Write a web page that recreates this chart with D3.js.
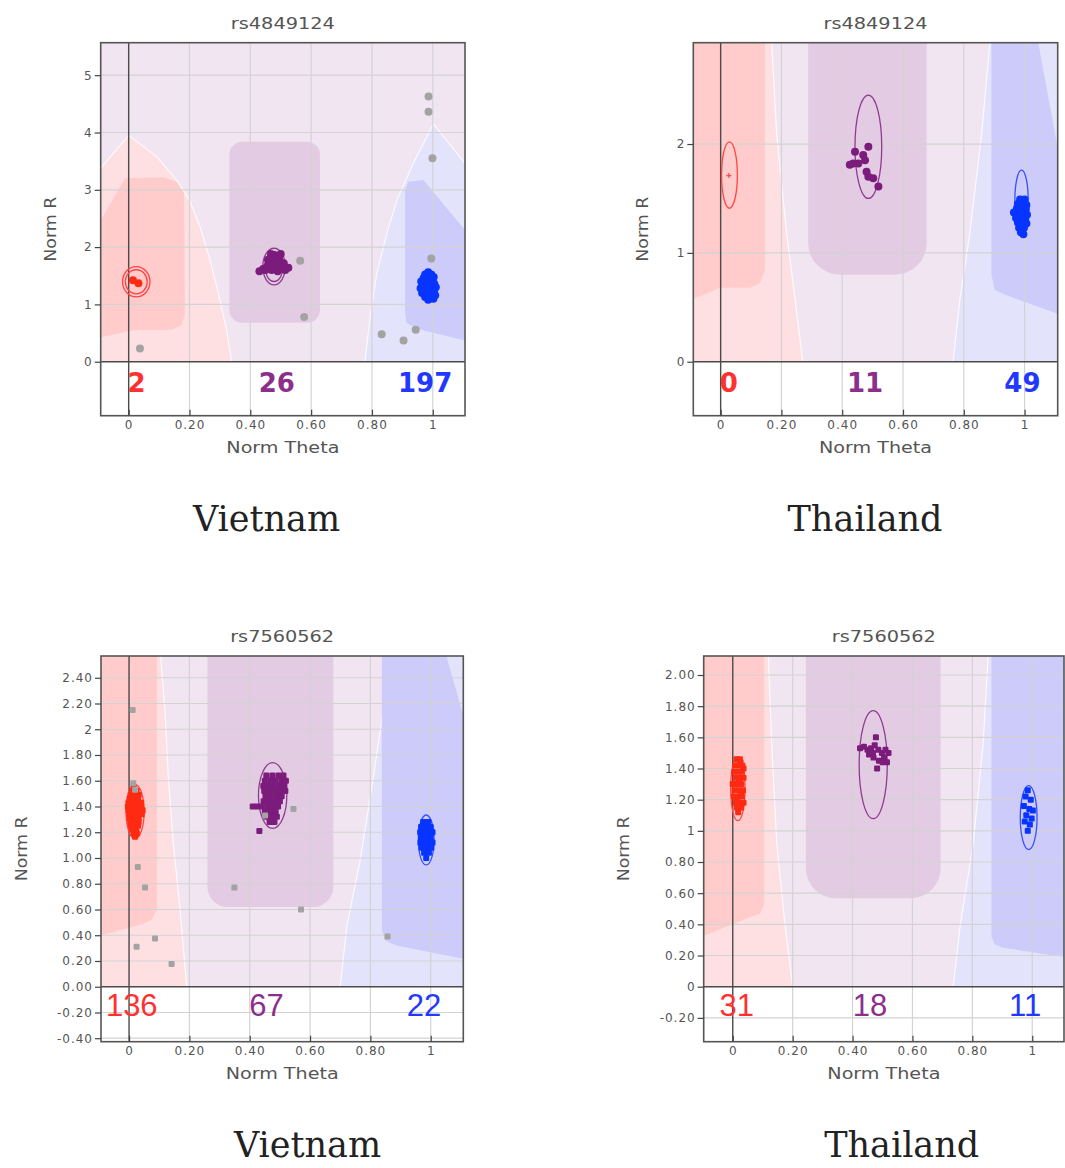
<!DOCTYPE html>
<html>
<head>
<meta charset="utf-8">
<script src="https://cdn.jsdelivr.net/npm/d3@7"></script>
<style>
  body { margin: 0; background: #fff; }
  svg { display: block; }
</style>
</head>
<body>
<script>
// four GenomeStudio-style cluster plots (Norm Theta vs Norm R), two SNPs x two countries

// ---- data ----
const snpTitles = ["rs4849124", "rs4849124", "rs7560562", "rs7560562"]
const countries = ["Vietnam", "Thailand", "Vietnam", "Thailand"]

// genotype call counts AA / AB / BB, and where they sit in the strip under R = 0
const genotypeCounts = [[2, 26, 197], [0, 11, 49], [136, 67, 22], [31, 18, 11]]
const countTheta = [[0.026, 0.487, 0.975], [0.027, 0.475, 0.993], [0.009, 0.456, 0.978], [0.013, 0.458, 0.976]]
const countR = [-0.535, -0.276, -0.228, -0.19]

const xTicks = [0, 0.2, 0.4, 0.6, 0.8, 1]
const xTickLabels = ["0", "0.20", "0.40", "0.60", "0.80", "1"]

const yTicks1 = [0, 1, 2, 3, 4, 5]
const yLabels1 = ["0", "1", "2", "3", "4", "5"]
const yTicks2 = [0, 1, 2]
const yLabels2 = ["0", "1", "2"]
const yTicks3 = [-0.4, -0.2, 0, 0.2, 0.4, 0.6, 0.8, 1, 1.2, 1.4, 1.6, 1.8, 2, 2.2, 2.4]
const yLabels3 = ["-0.40", "-0.20", "0.00", "0.20", "0.40", "0.60", "0.80", "1.00", "1.20", "1.40", "1.60", "1.80", "2", "2.20", "2.40"]
const yTicks4 = [-0.2, 0, 0.2, 0.4, 0.6, 0.8, 1, 1.2, 1.4, 1.6, 1.8, 2]
const yLabels4 = ["-0.20", "0", "0.20", "0.40", "0.60", "0.80", "1", "1.20", "1.40", "1.60", "1.80", "2.00"]

// cluster regions, [theta, R] vertices
const p1AaOuter = [[-0.2, 2.7], [0, 3.95], [0.092, 3.58], [0.158, 3.17], [0.20, 2.82], [0.235, 2.35], [0.268, 1.77], [0.295, 1.19], [0.322, 0.55], [0.339, 0], [0.339, -1], [-0.2, -1]]
const p1AaInner = [[-0.2, 1.49], [-0.012, 3.20], [0.114, 3.22], [0.158, 3.14], [0.182, 2.94], [0.185, 0.84], [0.174, 0.64], [0.141, 0.56], [0.015, 0.55], [-0.2, 0.3]]
const p1BbOuter = [[0.777, -1], [0.777, 0], [0.794, 0.78], [0.816, 1.54], [0.849, 2.24], [0.882, 2.82], [0.936, 3.46], [1.002, 4.15], [1.106, 3.46], [1.2, 2.84], [1.2, -1]]
const p1BbInner = [[0.909, 0.84], [0.909, 3.0], [0.920, 3.14], [0.969, 3.17], [1.106, 2.30], [1.2, 1.7], [1.2, 0.3], [1.106, 0.37], [0.991, 0.52], [0.947, 0.58], [0.914, 0.67]]
const p1AbBox = [0.331, 0.629, 0.68, 3.84]

const p2AaOuter = [[-0.2, 3.2], [0.168, 3.2], [0.168, 2.93], [0.184, 2.10], [0.217, 1.18], [0.245, 0.57], [0.270, 0], [0.270, -1], [-0.2, -1]]
const p2AaInner = [[-0.2, 3.2], [0.146, 3.2], [0.146, 0.84], [0.129, 0.72], [0.096, 0.68], [-0.002, 0.68], [-0.2, 0.45]]
const p2BbOuter = [[0.886, 3.2], [1.2, 3.2], [1.2, -1], [0.765, -1], [0.765, 0], [0.787, 0.57], [0.820, 1.18], [0.859, 2.10], [0.886, 2.93]]
const p2BbInner = [[0.891, 3.2], [1.035, 3.2], [1.045, 2.93], [1.10, 2.10], [1.2, 0.6], [1.2, 0.40], [1.109, 0.44], [0.941, 0.61], [0.902, 0.66], [0.891, 0.80]]
const p2AbBox = [0.288, 0.678, 0.80, 3.6]

const p3AaOuter = [[-0.2, 3.0], [0.105, 3.0], [0.105, 2.56], [0.119, 2.15], [0.130, 1.63], [0.147, 1.11], [0.169, 0.60], [0.191, 0], [0.191, -1], [-0.2, -1]]
const p3AaInner = [[-0.2, 3.0], [0.092, 3.0], [0.092, 0.60], [0.075, 0.52], [0.048, 0.49], [-0.091, 0.40], [-0.2, 0.35]]
const p3BbOuter = [[0.86, 3.0], [1.2, 3.0], [1.2, -1], [0.70, -1], [0.70, 0], [0.722, 0.47], [0.766, 0.98], [0.81, 1.63], [0.843, 2.15], [0.86, 2.56]]
const p3BbInner = [[0.838, 3.0], [1.045, 3.0], [1.053, 2.56], [1.103, 2.15], [1.2, 1.4], [1.2, 0.2], [1.103, 0.22], [0.887, 0.32], [0.849, 0.36], [0.838, 0.44]]
const p3AbBox = [0.26, 0.677, 0.62, 3.0]

const p4AaOuter = [[-0.2, 2.6], [0.119, 2.6], [0.119, 2.12], [0.130, 1.56], [0.147, 0.92], [0.175, 0.385], [0.20, 0], [0.20, -1], [-0.2, -1]]
const p4AaInner = [[-0.2, 2.6], [0.105, 2.6], [0.105, 0.53], [0.091, 0.47], [0.063, 0.45], [-0.092, 0.33], [-0.2, 0.28]]
const p4BbOuter = [[0.853, 2.6], [1.2, 2.6], [1.2, -1], [0.736, -1], [0.736, 0], [0.759, 0.385], [0.803, 0.92], [0.836, 1.56], [0.853, 2.12]]
const p4BbInner = [[0.864, 2.6], [1.2, 2.6], [1.2, 0.17], [1.109, 0.19], [0.903, 0.25], [0.875, 0.27], [0.864, 0.32]]
const p4AbBox = [0.244, 0.694, 0.567, 2.6]

// cluster ellipses: genotype, centre theta, centre R, half-width theta, half-height R
const p1Ellipses = [["AA", 0.025, 1.395, 0.045, 0.265], ["AA", 0.025, 1.395, 0.036, 0.21], ["AB", 0.478, 1.66, 0.037, 0.32], ["AB", 0.478, 1.66, 0.030, 0.26], ["BB", 0.985, 1.33, 0.025, 0.25]]
const p2Ellipses = [["AA", 0.029, 1.715, 0.026, 0.305], ["AB", 0.486, 1.975, 0.044, 0.475], ["BB", 0.99, 1.48, 0.022, 0.28]]
const p3Ellipses = [["AA", 0.02, 1.36, 0.03, 0.21], ["AB", 0.476, 1.485, 0.047, 0.255], ["BB", 0.985, 1.14, 0.026, 0.194]]
const p4Ellipses = [["AA", 0.017, 1.27, 0.024, 0.205], ["AB", 0.469, 1.425, 0.047, 0.347], ["BB", 0.988, 1.085, 0.028, 0.205]]

// cluster centre marks (empty cluster)
const p2Centres = [[0.027, 1.71]]

// samples, [theta, R]
const p1AA = [[0.014, 1.42], [0.032, 1.37]]
const p1AB = [[0.430, 1.58], [0.442, 1.62], [0.455, 1.66], [0.462, 1.72], [0.470, 1.80], [0.478, 1.86], [0.488, 1.84], [0.495, 1.78], [0.500, 1.70], [0.492, 1.66], [0.482, 1.62], [0.470, 1.60], [0.460, 1.68], [0.475, 1.70], [0.485, 1.74], [0.505, 1.62], [0.515, 1.60], [0.525, 1.64], [0.510, 1.72], [0.468, 1.88], [0.458, 1.78], [0.450, 1.60], [0.490, 1.58], [0.500, 1.88], [0.480, 1.78], [0.465, 1.64]]
const p1BB = [[0.985, 1.56], [0.975, 1.52], [0.995, 1.52], [1.003, 1.48], [0.970, 1.46], [0.985, 1.46], [0.998, 1.42], [0.962, 1.40], [0.978, 1.40], [0.992, 1.36], [1.005, 1.36], [0.966, 1.32], [0.982, 1.32], [0.998, 1.30], [0.972, 1.26], [0.988, 1.24], [1.004, 1.24], [0.965, 1.20], [0.980, 1.18], [0.996, 1.18], [1.008, 1.16], [0.975, 1.13], [0.990, 1.12], [1.002, 1.10], [0.985, 1.08], [0.960, 1.28], [1.010, 1.30], [0.975, 1.36], [0.990, 1.48], [1.000, 1.14]]
const p1NC = [[0.037, 0.23], [0.564, 1.76], [0.577, 0.78], [0.832, 0.48], [0.904, 0.37], [0.944, 0.56], [0.995, 1.80], [0.999, 3.55], [0.986, 4.36], [0.986, 4.63]]

const p2AA = []
const p2AB = [[0.442, 1.93], [0.469, 1.90], [0.475, 1.85], [0.436, 1.82], [0.453, 1.82], [0.480, 1.745], [0.486, 1.70], [0.502, 1.685], [0.519, 1.61], [0.486, 1.975], [0.425, 1.81]]
const p2BB = [[0.985, 1.49], [1.000, 1.49], [0.978, 1.45], [0.993, 1.45], [1.006, 1.44], [0.975, 1.41], [0.990, 1.40], [1.004, 1.40], [0.965, 1.37], [0.980, 1.36], [0.996, 1.36], [1.008, 1.35], [0.972, 1.32], [0.988, 1.32], [1.002, 1.31], [0.978, 1.28], [0.994, 1.27], [1.006, 1.27], [0.982, 1.23], [0.998, 1.23], [0.988, 1.19], [0.996, 1.17]]
const p2NC = []

const p3AA = [[0.015, 1.55], [0.010, 1.52], [0.025, 1.52], [0.005, 1.49], [0.020, 1.49], [0.032, 1.49], [0.002, 1.46], [0.016, 1.46], [0.030, 1.46], [-0.002, 1.43], [0.012, 1.43], [0.026, 1.43], [0.040, 1.43], [-0.004, 1.40], [0.010, 1.40], [0.024, 1.40], [0.040, 1.40], [-0.002, 1.37], [0.012, 1.37], [0.028, 1.37], [0.045, 1.37], [0.000, 1.34], [0.014, 1.34], [0.030, 1.34], [0.042, 1.34], [0.002, 1.31], [0.016, 1.31], [0.032, 1.31], [0.004, 1.28], [0.018, 1.28], [0.032, 1.28], [0.006, 1.25], [0.020, 1.25], [0.030, 1.25], [0.010, 1.22], [0.024, 1.22], [0.015, 1.19], [0.026, 1.19], [0.020, 1.165]]
const p3AB = [[0.455, 1.64], [0.475, 1.64], [0.495, 1.64], [0.512, 1.64], [0.450, 1.60], [0.468, 1.60], [0.486, 1.60], [0.505, 1.60], [0.520, 1.60], [0.445, 1.56], [0.462, 1.56], [0.480, 1.56], [0.498, 1.56], [0.515, 1.56], [0.448, 1.52], [0.466, 1.52], [0.484, 1.52], [0.502, 1.52], [0.518, 1.52], [0.452, 1.48], [0.470, 1.48], [0.488, 1.48], [0.506, 1.48], [0.446, 1.44], [0.464, 1.44], [0.482, 1.44], [0.500, 1.44], [0.410, 1.40], [0.425, 1.40], [0.440, 1.40], [0.458, 1.40], [0.476, 1.40], [0.494, 1.40], [0.450, 1.36], [0.468, 1.36], [0.486, 1.36], [0.456, 1.32], [0.474, 1.32], [0.490, 1.32], [0.466, 1.28], [0.482, 1.28], [0.432, 1.21]]
const p3BB = [[0.975, 1.28], [0.992, 1.28], [0.968, 1.24], [0.985, 1.24], [1.000, 1.24], [0.965, 1.20], [0.980, 1.20], [0.996, 1.20], [1.006, 1.20], [0.968, 1.16], [0.984, 1.16], [1.000, 1.16], [0.966, 1.12], [0.982, 1.12], [0.998, 1.12], [1.006, 1.12], [0.970, 1.08], [0.986, 1.08], [1.002, 1.08], [0.978, 1.04], [0.994, 1.04], [0.985, 1.00]]
const p3NC = [[0.012, 2.15], [0.014, 1.58], [0.020, 1.53], [0.029, 0.93], [0.053, 0.77], [0.025, 0.31], [0.086, 0.375], [0.141, 0.176], [0.349, 0.77], [0.451, 1.33], [0.545, 1.38], [0.57, 0.60], [0.857, 0.39]]

const p4AA = [[0.012, 1.46], [0.024, 1.46], [0.026, 1.44], [0.008, 1.42], [0.022, 1.42], [0.032, 1.42], [0.036, 1.40], [0.005, 1.38], [0.018, 1.38], [0.030, 1.38], [0.010, 1.34], [0.025, 1.34], [0.036, 1.34], [0.020, 1.32], [0.000, 1.30], [0.014, 1.30], [0.028, 1.30], [0.006, 1.26], [0.020, 1.26], [0.034, 1.26], [0.028, 1.24], [0.004, 1.22], [0.018, 1.22], [0.030, 1.22], [0.012, 1.20], [0.010, 1.18], [0.024, 1.18], [0.036, 1.18], [0.014, 1.15], [0.028, 1.15], [0.018, 1.12]]
const p4AB = [[0.425, 1.53], [0.438, 1.54], [0.450, 1.52], [0.462, 1.53], [0.474, 1.55], [0.478, 1.60], [0.486, 1.52], [0.498, 1.50], [0.510, 1.52], [0.520, 1.50], [0.455, 1.49], [0.470, 1.47], [0.488, 1.45], [0.500, 1.44], [0.515, 1.44], [0.482, 1.40], [0.468, 1.50], [0.505, 1.47]]
const p4BB = [[0.985, 1.26], [0.978, 1.22], [0.995, 1.20], [0.972, 1.16], [0.990, 1.14], [1.002, 1.13], [0.980, 1.10], [0.975, 1.06], [0.992, 1.04], [0.985, 1.00], [0.998, 1.08]]
const p4NC = []

// group per panel
const aaOuter = [p1AaOuter, p2AaOuter, p3AaOuter, p4AaOuter]
const aaInner = [p1AaInner, p2AaInner, p3AaInner, p4AaInner]
const bbOuter = [p1BbOuter, p2BbOuter, p3BbOuter, p4BbOuter]
const bbInner = [p1BbInner, p2BbInner, p3BbInner, p4BbInner]
const abBox = [p1AbBox, p2AbBox, p3AbBox, p4AbBox]
const ellipses = [p1Ellipses, p2Ellipses, p3Ellipses, p4Ellipses]
const centres = [[], p2Centres, [], []]
const samples = [
  { AA: p1AA, AB: p1AB, BB: p1BB, NC: p1NC },
  { AA: p2AA, AB: p2AB, BB: p2BB, NC: p2NC },
  { AA: p3AA, AB: p3AB, BB: p3BB, NC: p3NC },
  { AA: p4AA, AB: p4AB, BB: p4BB, NC: p4NC }
]

// ---- layout / style ----
const layout = [
  { box: [100.7, 42.7, 465, 415.7], xd: [-0.092, 1.106], yd: [-0.942, 5.567], yTicks: yTicks1, yLabels: yLabels1, abCorner: 13, marker: "circle", rGap: 50, label: [266.5, 531] },
  { box: [693.3, 42.7, 1057.7, 415.7], xd: [-0.090, 1.109], yd: [-0.496, 2.931], yTicks: yTicks2, yLabels: yLabels2, abCorner: 32, marker: "circle", rGap: 51, label: [865, 531] },
  { box: [101, 656, 463.3, 1041.7], xd: [-0.093, 1.108], yd: [-0.427, 2.569], yTicks: yTicks3, yLabels: yLabels3, abCorner: 20, marker: "square", rGap: 80, label: [307.5, 1157] },
  { box: [703.7, 656, 1064, 1041.7], xd: [-0.097, 1.106], yd: [-0.353, 2.122], yTicks: yTicks4, yLabels: yLabels4, abCorner: 30, marker: "square", rGap: 80, label: [901.7, 1157] }
]

const C = {
  bg: "#f1e5f1", aaOuter: "#fee0e2", aaInner: "#ffcbcb", abInner: "#e3cbe3",
  bbOuter: "#e4e3fc", bbInner: "#cccbfa", grid: "#d3d3d3"
}
const dotColor = { AA: "#ff2a12", AB: "#7b1b7b", BB: "#0834ff", NC: "#a3a3a3" }
const ringColor = { AA: "#ff4545", AB: "#8f3c8f", BB: "#3550ff" }
const countColor = ["#ff3030", "#8b2f8b", "#2238ff"]

const svg = d3.select("body").append("svg")
  .attr("width", 1065).attr("height", 1168)
  .style("font-family", "'DejaVu Sans', sans-serif")

function drawPanel(i) {
  const L = layout[i]
  const [bx0, by0, bx1, by1] = L.box
  const x = d3.scaleLinear().domain(L.xd).range([bx0, bx1])
  const y = d3.scaleLinear().domain(L.yd).range([by1, by0])
  const g = svg.append("g")

  // clip the coloured regions to the plot above R = 0
  g.append("clipPath").attr("id", "clip" + i)
    .append("rect")
    .attr("x", bx0).attr("y", by0).attr("width", bx1 - bx0).attr("height", y(0) - by0)

  g.append("rect")
    .attr("x", bx0).attr("y", by0).attr("width", bx1 - bx0).attr("height", by1 - by0)
    .attr("fill", "#fff")

  const reg = g.append("g").attr("clip-path", `url(#clip${i})`)
  reg.append("rect")
    .attr("x", bx0).attr("y", by0).attr("width", bx1 - bx0).attr("height", y(0) - by0)
    .attr("fill", C.bg)

  const line = d3.line().x(d => x(d[0])).y(d => y(d[1]))

  reg.append("path").attr("d", line(aaOuter[i]) + "Z")
    .attr("fill", C.aaOuter).attr("stroke", "#fff").attr("stroke-width", 1.2).attr("stroke-opacity", 0.8)
  reg.append("path").attr("d", line(bbOuter[i]) + "Z")
    .attr("fill", C.bbOuter).attr("stroke", "#fff").attr("stroke-width", 1.2).attr("stroke-opacity", 0.8)
  reg.append("path").attr("d", line(aaInner[i]) + "Z").attr("fill", C.aaInner)
  reg.append("path").attr("d", line(bbInner[i]) + "Z").attr("fill", C.bbInner)

  const ab = abBox[i]
  reg.append("rect")
    .attr("x", x(ab[0])).attr("y", y(ab[3]))
    .attr("width", x(ab[1]) - x(ab[0])).attr("height", y(ab[2]) - y(ab[3]))
    .attr("rx", L.abCorner)
    .attr("fill", C.abInner)

  // grid
  g.selectAll(null)
    .data(L.yTicks.filter(v => v !== 0))
    .join("line")
    .attr("x1", bx0).attr("x2", bx1)
    .attr("y1", d => y(d)).attr("y2", d => y(d))
    .attr("stroke", C.grid).attr("stroke-width", 1.2)

  g.selectAll(null)
    .data(xTicks.filter(v => v !== 0))
    .join("line")
    .attr("x1", d => x(d)).attr("x2", d => x(d))
    .attr("y1", by0).attr("y2", by1)
    .attr("stroke", C.grid).attr("stroke-width", 1.2)

  // dark zero lines
  g.append("line")
    .attr("x1", x(0)).attr("x2", x(0)).attr("y1", by0).attr("y2", by1)
    .attr("stroke", "#4a4a4a").attr("stroke-width", 1.4)
  g.append("line")
    .attr("x1", bx0).attr("x2", bx1).attr("y1", y(0)).attr("y2", y(0))
    .attr("stroke", "#4a4a4a").attr("stroke-width", 1.4)

  // cluster ellipses
  g.selectAll(null)
    .data(ellipses[i])
    .join("ellipse")
    .attr("cx", d => x(d[1])).attr("cy", d => y(d[2]))
    .attr("rx", d => x(d[1] + d[3]) - x(d[1]))
    .attr("ry", d => y(d[2]) - y(d[2] + d[4]))
    .attr("fill", "none")
    .attr("stroke", d => ringColor[d[0]])
    .attr("stroke-width", 1.3)

  // centre mark of an empty cluster
  centres[i].forEach(c => {
    g.append("path")
      .attr("d", `M${x(c[0]) - 2.5},${y(c[1])}h5M${x(c[0])},${y(c[1]) - 2.5}v5`)
      .attr("stroke", ringColor.AA).attr("stroke-width", 1.2)
  })

  // samples, no-calls last so they sit on top
  ;["AA", "AB", "BB", "NC"].forEach(geno => {
    const pts = samples[i][geno]
    if (L.marker === "circle") {
      g.selectAll(null).data(pts).join("circle")
        .attr("cx", d => x(d[0])).attr("cy", d => y(d[1]))
        .attr("r", 4)
        .attr("fill", dotColor[geno])
    } else {
      g.selectAll(null).data(pts).join("rect")
        .attr("x", d => x(d[0]) - 3).attr("y", d => y(d[1]) - 3)
        .attr("width", 6).attr("height", 6).attr("rx", 1.2)
        .attr("fill", dotColor[geno])
    }
  })

  // counts in the strip below zero
  g.selectAll(null)
    .data(genotypeCounts[i])
    .join("text")
    .attr("x", (d, j) => x(countTheta[i][j]))
    .attr("y", y(countR[i]))
    .attr("text-anchor", "middle")
    .style("font-family", i < 2 ? "'DejaVu Sans', sans-serif" : "'Liberation Sans', Arial, sans-serif")
    .style("font-weight", i < 2 ? "700" : "400")
    .style("font-size", i < 2 ? "26px" : "31px")
    .attr("fill", (d, j) => countColor[j])
    .text(d => d)

  // frame
  g.append("rect")
    .attr("x", bx0).attr("y", by0).attr("width", bx1 - bx0).attr("height", by1 - by0)
    .attr("fill", "none").attr("stroke", "#555").attr("stroke-width", 1.6)

  // axes
  const yAxis = d3.axisLeft(y)
    .tickValues(L.yTicks)
    .tickFormat((d, j) => L.yLabels[j])
    .tickSize(6).tickPadding(2)
  const ya = g.append("g").attr("transform", `translate(${bx0},0)`).call(yAxis)
  ya.select(".domain").remove()

  const xAxis = d3.axisBottom(x)
    .tickValues(xTicks)
    .tickFormat((d, j) => xTickLabels[j])
    .tickSize(-6).tickPadding(5)
  const xa = g.append("g").attr("transform", `translate(0,${by1})`).call(xAxis)
  xa.select(".domain").remove()

  ;[ya, xa].forEach(a => {
    a.selectAll("line").attr("stroke", "#444").attr("stroke-width", 1.2)
    a.selectAll("text")
      .attr("fill", "#555")
      .style("font-family", "'DejaVu Sans', sans-serif")
      .style("font-size", "12px")
      .style("letter-spacing", "1px")
  })

  // titles and axis names
  g.append("text")
    .attr("x", (bx0 + bx1) / 2).attr("y", by0 - 14)
    .attr("text-anchor", "middle")
    .attr("textLength", 104).attr("lengthAdjust", "spacingAndGlyphs")
    .style("font-size", "15px").attr("fill", "#555")
    .text(snpTitles[i])

  g.append("text")
    .attr("x", (bx0 + bx1) / 2).attr("y", by1 + 37)
    .attr("text-anchor", "middle")
    .attr("textLength", 113).attr("lengthAdjust", "spacingAndGlyphs")
    .style("font-size", "16px").attr("fill", "#555")
    .text("Norm Theta")

  g.append("text")
    .attr("transform", `translate(${bx0 - L.rGap},${(by0 + by1) / 2}) rotate(-90)`)
    .attr("dy", "0.35em")
    .attr("text-anchor", "middle")
    .attr("textLength", 65).attr("lengthAdjust", "spacingAndGlyphs")
    .style("font-size", "16px").attr("fill", "#555")
    .text("Norm R")

  // country caption under each plot
  svg.append("text")
    .attr("x", L.label[0]).attr("y", L.label[1])
    .attr("text-anchor", "middle")
    .style("font-family", "'DejaVu Serif', serif")
    .style("font-size", "35px")
    .attr("fill", "#222")
    .text(countries[i])
}

layout.forEach((L, i) => drawPanel(i))
</script>
</body>
</html>
